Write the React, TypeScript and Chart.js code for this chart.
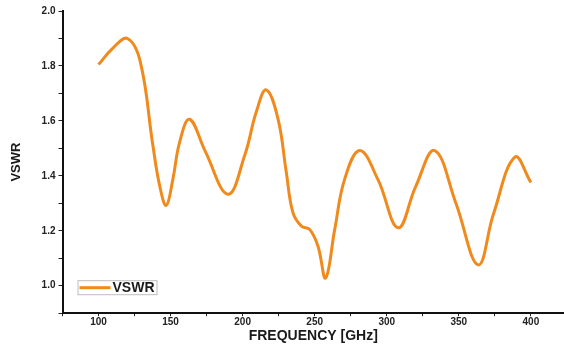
import React, { useEffect, useRef } from "react";
import { Chart, registerables } from "chart.js";

Chart.register(...registerables);

const freqGHz = [100, 110, 120, 129, 137.7, 142.4, 147, 151.6, 156.3, 163.2, 174, 189.8, 201.4, 209.5, 216.4, 224.5, 230.3, 234.9, 240.8, 246.5, 252.3, 257.6, 263.9, 270.8, 281.3, 294, 307.9, 320, 333.3, 348, 363.4, 374, 388.9, 400];
const vswr = [1.805, 1.865, 1.90, 1.815, 1.511, 1.365, 1.292, 1.388, 1.523, 1.606, 1.49, 1.333, 1.474, 1.633, 1.713, 1.608, 1.413, 1.266, 1.217, 1.205, 1.144, 1.028, 1.205, 1.388, 1.492, 1.385, 1.211, 1.36, 1.492, 1.30, 1.076, 1.26, 1.468, 1.376];
const seriesName = "VSWR";
const xTitle = "FREQUENCY [GHz]";
const yTitle = "VSWR";
const lineColor = "#F08A1C";

const legendPlugin = {
  id: "insideLegend",
  afterDraw(chart: any) {
    const { ctx, chartArea } = chart;
    const x = chartArea.left + 15;
    const y = chartArea.bottom - 33;
    ctx.save();
    ctx.strokeStyle = "#bdbdbd";
    ctx.lineWidth = 1;
    ctx.fillStyle = "#ffffff";
    ctx.fillRect(x + 0.5, y + 0.5, 79, 14);
    ctx.strokeRect(x + 0.5, y + 0.5, 79, 14);
    ctx.strokeStyle = lineColor;
    ctx.lineWidth = 3;
    ctx.beginPath();
    ctx.moveTo(x + 2, y + 7.5);
    ctx.lineTo(x + 33, y + 7.5);
    ctx.stroke();
    ctx.fillStyle = "#1a1a1a";
    ctx.font = "bold 14px 'Liberation Sans', Arial, sans-serif";
    ctx.textBaseline = "middle";
    ctx.textAlign = "left";
    ctx.fillText(seriesName, x + 35, y + 8);
    ctx.restore();
  },
};

export default function App() {
  const ref = useRef<HTMLCanvasElement | null>(null);
  useEffect(() => {
    if (!ref.current) return;
    const font = { family: "'Liberation Sans', Arial, sans-serif", weight: "bold" as const };
    const chart = new Chart(ref.current, {
      type: "line",
      data: {
        datasets: [
          {
            label: seriesName,
            data: freqGHz.map((f, i) => ({ x: f, y: vswr[i] })),
            borderColor: lineColor,
            borderWidth: 3,
            pointRadius: 0,
            tension: 0.4,
            fill: false,
          },
        ],
      },
      options: {
        responsive: false,
        animation: false,
        layout: { padding: { top: 11, right: 0, left: 9, bottom: 0 } },
        plugins: { legend: { display: false }, tooltip: { enabled: false } },
        scales: {
          x: {
            type: "linear",
            min: 75,
            max: 423,
            afterBuildTicks: (axis: any) => {
              axis.ticks = axis.ticks.filter((t: any) => Math.abs(t.value % 25) < 1e-6);
            },
            ticks: {
              stepSize: 25,
              color: "#222",
              font: { ...font, size: 10 },
              padding: 0,
              maxRotation: 0,
              autoSkip: false,
              callback: (v: any) => (Number(v) % 50 === 0 ? String(v) : ""),
            },
            grid: { display: true, drawOnChartArea: false, drawTicks: true, tickLength: 3, color: "#222", lineWidth: 1 },
            border: { display: true, color: "#111", width: 2 },
            title: { display: true, text: xTitle, color: "#1a1a1a", font: { ...font, size: 14 }, padding: { top: 0, bottom: 0 } },
          },
          y: {
            type: "linear",
            min: 0.9,
            max: 2.0,
            afterBuildTicks: (axis: any) => {
              const t = [];
              for (let k = 0; k <= 11; k++) t.push({ value: Math.round((0.9 + k * 0.1) * 10) / 10 });
              axis.ticks = t;
            },
            ticks: {
              color: "#222",
              font: { ...font, size: 10 },
              padding: 3,
              autoSkip: false,
              callback: (v: any) => (Math.round(Number(v) * 10) % 2 === 0 ? Number(v).toFixed(1) : ""),
            },
            grid: { display: true, drawOnChartArea: false, drawTicks: true, tickLength: 4, color: "#222", lineWidth: 1 },
            border: { display: true, color: "#111", width: 2 },
            title: { display: true, text: yTitle, color: "#1a1a1a", font: { ...font, size: 13 }, padding: { top: 0, bottom: 14 } },
          },
        },
      },
      plugins: [legendPlugin],
    });
    return () => chart.destroy();
  }, []);
  return (
    <div style={{ position: "fixed", left: 0, top: 0, width: 564, height: 345, background: "#fff" }}>
      <canvas ref={ref} width={564} height={345} style={{ display: "block" }} />
    </div>
  );
}
